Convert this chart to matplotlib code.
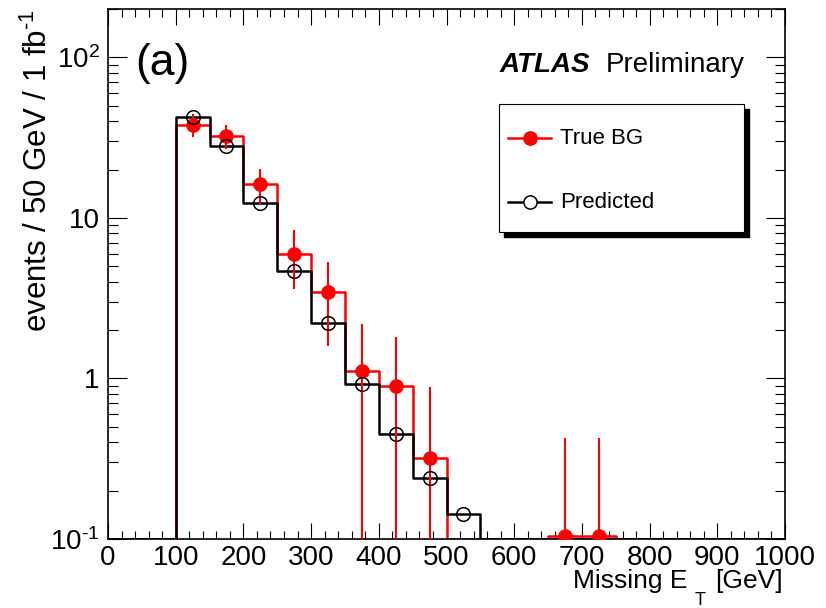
import numpy as np
import matplotlib
matplotlib.use("Agg")
import matplotlib.pyplot as plt
from matplotlib.patches import Rectangle
from matplotlib.lines import Line2D
from matplotlib.ticker import FixedLocator, FuncFormatter, MultipleLocator, LogLocator, NullFormatter

plt.rcParams['font.family'] = ['Liberation Sans', 'DejaVu Sans']
plt.rcParams['mathtext.fontset'] = 'custom'
plt.rcParams['mathtext.rm'] = 'Liberation Sans'
plt.rcParams['mathtext.it'] = 'Liberation Sans:italic'
plt.rcParams['mathtext.bf'] = 'Liberation Sans:bold'

# ---- data ----
bin_edges = np.arange(0, 1001, 50)
bin_centers = 0.5 * (bin_edges[:-1] + bin_edges[1:])
true_bg = [0, 0, 38.0, 32.5, 16.2, 6.0, 3.45, 1.12, 0.90, 0.32, 0, 0, 0, 0.105, 0.105, 0, 0, 0, 0, 0]
true_bg_err = [0, 0, 6.2, 5.6, 4.0, 2.4, 1.85, 1.05, 0.92, 0.56, 0, 0, 0, 0.32, 0.32, 0, 0, 0, 0, 0]
predicted = [0, 0, 42.8, 28.0, 12.4, 4.7, 2.2, 0.93, 0.45, 0.24, 0.143, 0, 0, 0, 0, 0, 0, 0, 0, 0]
ylow, yhigh = 0.1, 200
ytick_vals = [0.1, 1, 10, 100]
ytick_text = [r'$10^{\text{-}1}$', '1', '10', '$10^{2}$']

W, H = 826, 608
fig = plt.figure(figsize=(W / 100, H / 100), dpi=100)
ax = fig.add_axes([108 / W, 69 / H, 677 / W, 530 / H])
ax.set_yscale('log')
ax.set_xlim(0, 1000)
ax.set_ylim(ylow, yhigh)

tb = np.array(true_bg, float)
tbe = np.array(true_bg_err, float)
pr = np.array(predicted, float)

def step_vals(v):
    v = np.where(v > 0, v, ylow)
    return np.append(v, v[-1])

ax.step(bin_edges, step_vals(tb), where='post', color='red', lw=1.8, zorder=2)
ax.step(bin_edges, step_vals(pr), where='post', color='black', lw=1.8, zorder=3)

m = tb > 0
lower = np.minimum(tbe[m], tb[m] * 0.999)
ax.errorbar(bin_centers[m], tb[m], yerr=[lower, tbe[m]], fmt='o', color='red',
            ms=9.5, elinewidth=1.5, capsize=0, zorder=4)
mp = pr > 0
ax.plot(bin_centers[mp], pr[mp], 'o', mfc='none', mec='black', ms=9.8, mew=1.1, zorder=5)

# ticks
ax.xaxis.set_major_locator(MultipleLocator(100))
ax.xaxis.set_minor_locator(MultipleLocator(20))
ax.yaxis.set_major_locator(FixedLocator(ytick_vals))
ax.yaxis.set_major_formatter(FuncFormatter(lambda v, p: ytick_text[ytick_vals.index(v)] if v in ytick_vals else ''))
ax.yaxis.set_minor_locator(LogLocator(base=10, subs=np.arange(2, 10), numticks=20))
ax.yaxis.set_minor_formatter(NullFormatter())
ax.tick_params(which='both', direction='in', top=True, right=True, width=0.8, labelsize=20)
ax.tick_params(axis='x', which='major', length=11.5, pad=4)
ax.tick_params(axis='x', which='minor', length=5.8)
ax.tick_params(axis='y', which='major', length=14, pad=6)
ax.tick_params(axis='y', which='minor', length=7)
for s in ax.spines.values():
    s.set_linewidth(1.2)

# labels
fig.text(54 / W, 1 - 171 / H, r'events / 50 GeV / 1 fb$^{\text{-}1}$', rotation=90,
         ha='right', va='center', fontsize=22.5)
fig.text(573 / W, 1 - 588 / H, 'Missing E', ha='left', va='baseline', fontsize=19)
fig.text(695 / W, 1 - 605 / H, 'T', ha='left', va='baseline', fontsize=13)
fig.text(783 / W, 1 - 588 / H, '[GeV]', ha='right', va='baseline', fontsize=19)

fig.text(135 / W, 1 - 75 / H, '(a)', ha='left', va='baseline', fontsize=32)
fig.text(500 / W, 1 - 72 / H, 'ATLAS', ha='left', va='baseline', fontsize=20,
         fontweight='bold', fontstyle='italic')
fig.text(606 / W, 1 - 72 / H, 'Preliminary', ha='left', va='baseline', fontsize=20)

# legend box with shadow
bx0, bx1, by0, by1 = 499, 744, 104, 232
fig.add_artist(Rectangle(((bx0 + 5) / W, 1 - (by1 + 5) / H), (bx1 - bx0) / W, (by1 - by0) / H,
                         transform=fig.transFigure, facecolor='black', edgecolor='black', zorder=10))
fig.add_artist(Rectangle((bx0 / W, 1 - by1 / H), (bx1 - bx0) / W, (by1 - by0) / H,
                         transform=fig.transFigure, facecolor='white', edgecolor='black', lw=0.8, zorder=11))
for yy, col, filled, lab in [(138, 'red', True, 'True BG'), (202, 'black', False, 'Predicted')]:
    fig.add_artist(Line2D([508 / W, 551 / W], [1 - yy / H, 1 - yy / H], transform=fig.transFigure,
                          color=col, lw=1.8, zorder=12))
    fig.add_artist(Line2D([530 / W], [1 - yy / H], transform=fig.transFigure, marker='o', ms=9.5,
                          mfc=col if filled else 'white', mec=col, mew=1.1, zorder=13))
    fig.text(560 / W, 1 - yy / H, lab, ha='left', va='center', fontsize=16, zorder=14)

fig.savefig('out.png', dpi=100)
